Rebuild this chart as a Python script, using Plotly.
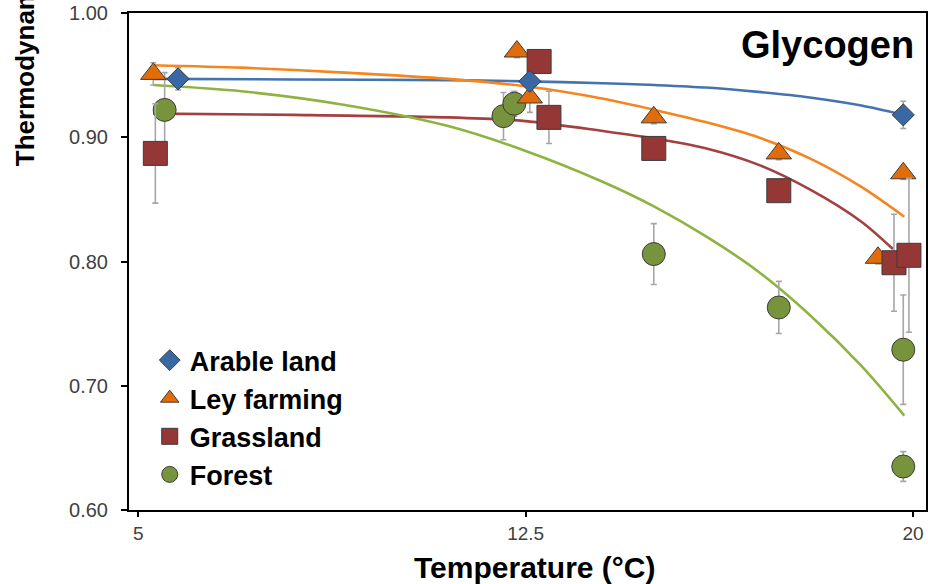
import plotly.graph_objects as go

# ---------------- data ----------------
series_names = ["Arable land", "Ley farming", "Grassland", "Forest"]

arable_x = [5.77, 12.58, 19.81]
arable_y = [0.947, 0.945, 0.918]
arable_err = [0.009, 0.005, 0.011]

ley_x = [5.29, 12.33, 12.58, 14.98, 17.40, 19.32, 19.81]
ley_y = [0.951, 0.969, 0.932, 0.916, 0.887, 0.803, 0.871]
ley_err = [0.009, 0.005, 0.012, 0.005, 0.005, 0.005, 0.005]

grass_x = [5.33, 12.76, 12.95, 14.98, 17.40, 19.63, 19.92]
grass_y = [0.887, 0.961, 0.916, 0.891, 0.857, 0.799, 0.805]
grass_err = [0.040, 0.005, 0.021, 0.005, 0.005, 0.039, 0.062]

forest_x = [5.51, 12.07, 12.28, 14.98, 17.40, 19.81, 19.81]
forest_y = [0.922, 0.917, 0.927, 0.806, 0.763, 0.729, 0.635]
forest_err = [0.030, 0.019, 0.010, 0.0245, 0.021, 0.044, 0.012]

# fitted curves
arable_fit_x = [5.29, 8.0, 11.0, 12.5, 14.0, 15.0, 16.0, 17.0, 18.0, 19.0, 19.81]
arable_fit_y = [0.947, 0.9465, 0.946, 0.945, 0.9435, 0.942, 0.940, 0.9365, 0.932, 0.9255, 0.918]

ley_fit_x = [5.29, 7.0, 9.0, 11.0, 12.5, 14.0, 15.0, 16.0, 17.0, 18.0, 19.0, 19.83]
ley_fit_y = [0.958, 0.956, 0.952, 0.947, 0.941, 0.931, 0.922, 0.912, 0.900, 0.883, 0.860, 0.836]

grass_fit_x = [5.29, 8.0, 11.0, 12.5, 14.0, 15.0, 16.0, 17.0, 18.0, 19.0, 19.61]
grass_fit_y = [0.919, 0.918, 0.916, 0.913, 0.905, 0.899, 0.891, 0.878, 0.858, 0.832, 0.810]

forest_fit_x = [5.29, 7.0, 9.0, 11.0, 12.5, 14.0, 15.0, 16.0, 17.0, 18.0, 19.0, 19.83]
forest_fit_y = [0.942, 0.937, 0.926, 0.909, 0.889, 0.864, 0.844, 0.820, 0.792, 0.757, 0.716, 0.676]

x_tick_vals = [5, 12.5, 20]
x_tick_text = ["5", "12.5", "20"]
y_tick_vals = [0.60, 0.70, 0.80, 0.90, 1.00]

# ---------------- styling ----------------
FONT = "Liberation Sans, Arial, Helvetica, sans-serif"
fill_colors = {"Arable land": "#3A68A4", "Ley farming": "#E36C0A",
               "Grassland": "#953735", "Forest": "#77933C"}
line_colors = {"Arable land": "#4573AE", "Ley farming": "#F5861F",
               "Grassland": "#A4403F", "Forest": "#8DB440"}
symbols = {"Arable land": "diamond", "Ley farming": "triangle-up",
           "Grassland": "square", "Forest": "circle"}
sizes = {"Arable land": 17, "Ley farming": 22, "Grassland": 24, "Forest": 23}

points = {
    "Arable land": (arable_x, arable_y, arable_err),
    "Ley farming": (ley_x, ley_y, ley_err),
    "Grassland": (grass_x, grass_y, grass_err),
    "Forest": (forest_x, forest_y, forest_err),
}
fits = {
    "Arable land": (arable_fit_x, arable_fit_y),
    "Ley farming": (ley_fit_x, ley_fit_y),
    "Grassland": (grass_fit_x, grass_fit_y),
    "Forest": (forest_fit_x, forest_fit_y),
}

fig = go.Figure()

# curves first (underneath the markers)
for name in series_names:
    fx, fy = fits[name]
    fig.add_trace(go.Scatter(
        x=fx, y=fy, mode="lines", showlegend=False, hoverinfo="skip",
        line=dict(color=line_colors[name], width=2.6, shape="spline", smoothing=0.8),
    ))

draw_order = ["Forest", "Ley farming", "Grassland", "Arable land"]
for name in draw_order:
    px_, py_, pe_ = points[name]
    fig.add_trace(go.Scatter(
        x=px_, y=py_, mode="markers", name=name,
        legendrank=series_names.index(name) + 1,
        error_y=dict(type="data", array=pe_, visible=True,
                     color="#A6A6A6", thickness=1.6, width=3),
        marker=dict(symbol=symbols[name], size=sizes[name], color=fill_colors[name],
                    line=dict(color="#3C3C3C", width=1)),
    ))

fig.add_annotation(
    text="<b>Glycogen</b>", xref="paper", yref="paper",
    x=0.988, y=0.981, xanchor="right", yanchor="top", showarrow=False,
    font=dict(family=FONT, size=38, color="#000000"),
)

fig.add_annotation(
    text="<b>Thermodynamic efficiency</b>", xref="paper", yref="paper",
    x=-0.131, y=0.688, xanchor="center", yanchor="bottom", textangle=-90,
    showarrow=False, font=dict(family=FONT, size=26, color="#000000"),
)

fig.add_annotation(
    text="<b>Temperature (°C)</b>", xref="paper", yref="paper",
    x=0.509, y=-0.1167, xanchor="center", yanchor="middle",
    showarrow=False, font=dict(family=FONT, size=30, color="#000000"),
)

fig.update_layout(
    width=928, height=584,
    margin=dict(l=129, r=2, t=13, b=74),
    paper_bgcolor="white", plot_bgcolor="white",
    font=dict(family=FONT, color="#000000"),
    showlegend=True,
    legend=dict(
        x=0.026, y=0.35, xanchor="left", yanchor="top",
        bgcolor="rgba(0,0,0,0)", borderwidth=0,
        font=dict(family=FONT, size=27, color="#000000", weight="bold"),
        traceorder="normal", itemsizing="trace",
    ),
    xaxis=dict(
        range=[4.82, 20.25], tickvals=x_tick_vals, ticktext=x_tick_text,
        showgrid=False, zeroline=False, automargin=False,
        showline=True, linecolor="#000000", linewidth=2, mirror=True,
        ticks="outside", ticklen=5, tickwidth=1.5, tickcolor="#000000",
        tickfont=dict(family=FONT, size=19, color="#3F3F3F"),
        ticklabeloverflow="allow",
    ),
    yaxis=dict(
        range=[0.60, 1.00], tickvals=y_tick_vals, tickformat=".2f",
        showgrid=False, zeroline=False, automargin=False,
        showline=True, linecolor="#000000", linewidth=2, mirror=True,
        ticks="outside", ticklen=6, tickwidth=1.5, tickcolor="#000000",
        tickfont=dict(family=FONT, size=20, color="#3F3F3F"),
        ticklabelstandoff=9, ticklabeloverflow="allow",
    ),
)

# remove the default 8px page margin so the 928x584 figure fills the window exactly
fig.write_html(
    "out.html",
    config={"displayModeBar": False},
    post_script="document.body.style.margin='0';document.body.style.overflow='hidden';",
)
